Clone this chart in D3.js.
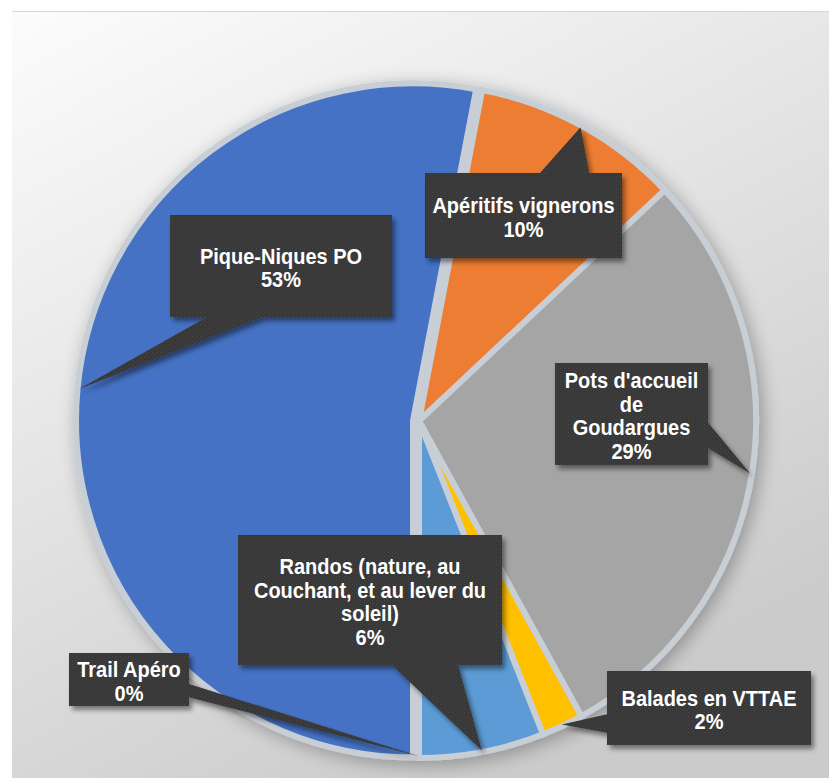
<!DOCTYPE html>
<html><head><meta charset="utf-8">
<script src="https://cdn.jsdelivr.net/npm/d3@7"></script>
<style>html,body{margin:0;padding:0;background:#fff;} svg{display:block}</style>
</head><body>
<svg id="chart" width="829" height="778"></svg>
<script>
// ---- data ----
const categories = ["Pique-Niques PO", "Apéritifs vignerons", "Pots d'accueil de Goudargues", "Balades en VTTAE", "Randos (nature, au Couchant, et au lever du soleil)", "Trail Apéro"];
const values = [53, 10, 29, 2, 6, 0];
const percentLabels = ["53%", "10%", "29%", "2%", "6%", "0%"];
const labelLines = [["Pique-Niques PO"], ["Apéritifs vignerons"], ["Pots d'accueil", "de", "Goudargues"], ["Balades en VTTAE"], ["Randos (nature, au", "Couchant, et au lever du", "soleil)"], ["Trail Apéro"]];
const colors = ["#4472C4", "#ED7D31", "#A5A5A5", "#FFC000", "#5B9BD5", "#70AD47"];
const explode = [6, 0, 0, 0, 0, 0];
// label box layout [x0, y0, x1, y1]
const labelBoxes = [[170,215,392,317],[425,173,622,258],[555,363,708,465],[607,671,811,745],[238,535,502,665],[69,653,189,706]];

// ---- layout ----
const W = 829, H = 778;
const cx = 419, cy = 421, R = 337;
const svg = d3.select("#chart");
const defs = svg.append("defs");

const bg = defs.append("linearGradient").attr("id","bg").attr("x1",0).attr("y1",0).attr("x2",0.55).attr("y2",1);
bg.append("stop").attr("offset","0%").attr("stop-color","#fcfcfc");
bg.append("stop").attr("offset","45%").attr("stop-color","#e6e6e6");
bg.append("stop").attr("offset","100%").attr("stop-color","#cbcbcb");

const pieShadow = defs.append("filter").attr("id","pieShadow").attr("x","-20%").attr("y","-20%").attr("width","140%").attr("height","140%");
pieShadow.append("feGaussianBlur").attr("in","SourceAlpha").attr("stdDeviation",9).attr("result","b");
pieShadow.append("feOffset").attr("in","b").attr("dx",4).attr("dy",4).attr("result","o");
pieShadow.append("feComponentTransfer").attr("in","o").attr("result","s").append("feFuncA").attr("type","linear").attr("slope",0.3);
const pm = pieShadow.append("feMerge");
pm.append("feMergeNode").attr("in","s");
pm.append("feMergeNode").attr("in","SourceGraphic");

const boxShadow = defs.append("filter").attr("id","boxShadow").attr("x","-20%").attr("y","-20%").attr("width","140%").attr("height","140%");
boxShadow.append("feDropShadow").attr("dx",3).attr("dy",4).attr("stdDeviation",2.5).attr("flood-color","#000").attr("flood-opacity",0.45);

const tex = defs.append("pattern").attr("id","tex").attr("patternUnits","userSpaceOnUse").attr("width",4).attr("height",4);
tex.append("rect").attr("width",4).attr("height",4).attr("fill","#383838");
tex.append("rect").attr("x",0).attr("y",0).attr("width",1).attr("height",1).attr("fill","#4a4a4a");
tex.append("rect").attr("x",2).attr("y",2).attr("width",1).attr("height",1).attr("fill","#454545");

// background frame
svg.append("rect").attr("width",W).attr("height",H).attr("fill","#ffffff");
svg.append("rect").attr("x",12).attr("y",11).attr("width",W-12).attr("height",H-11).attr("fill","url(#bg)");
svg.append("line").attr("x1",12).attr("x2",W).attr("y1",11.5).attr("y2",11.5).attr("stroke","#d6d6d6");

// pie
const pie = d3.pie().sort(null).value(d => d).startAngle(Math.PI).endAngle(3*Math.PI);
const arcs = pie(values);
const arc = d3.arc().innerRadius(0).outerRadius(R);
const g = svg.append("g").attr("transform",`translate(${cx},${cy})`).attr("filter","url(#pieShadow)");
const mid = d => (d.startAngle + d.endAngle) / 2;
const off = (d,i) => [Math.sin(mid(d))*explode[i], -Math.cos(mid(d))*explode[i]];

g.selectAll("path.slice").data(arcs).join("path")
  .attr("class","slice")
  .attr("d", arc)
  .attr("transform",(d,i)=>{const o=off(d,i);return `translate(${o[0]},${o[1]})`;})
  .attr("fill",(d,i)=>colors[i])
  .attr("stroke","#c8ced5")
  .attr("stroke-width",d => d.value > 0 ? 6 : 0)
  .attr("stroke-linejoin","miter");

// callouts
function calloutPath(b, tx, ty){
  const [x0,y0,x1,y1] = b; const w=x1-x0, h=y1-y0; const bx=(x0+x1)/2, by=(y0+y1)/2;
  const dx = tx-bx, dy = ty-by;
  const horiz = Math.abs(dx)/w > Math.abs(dy)/h;
  let p = [[x0,y0]];
  if(!horiz && dy<0){ const a = dx<0 ? [x0+w/6,x0+w*5/12] : [x0+w*7/12,x0+w*5/6]; p.push([a[0],y0],[tx,ty],[a[1],y0]); }
  p.push([x1,y0]);
  if(horiz && dx>0){ const a = dy<0 ? [y0+h/6,y0+h*5/12] : [y0+h*7/12,y0+h*5/6]; p.push([x1,a[0]],[tx,ty],[x1,a[1]]); }
  p.push([x1,y1]);
  if(!horiz && dy>0){ const a = dx<0 ? [x0+w/6,x0+w*5/12] : [x0+w*7/12,x0+w*5/6]; p.push([a[1],y1],[tx,ty],[a[0],y1]); }
  p.push([x0,y1]);
  if(horiz && dx<0){ const a = dy<0 ? [y0+h/6,y0+h*5/12] : [y0+h*7/12,y0+h*5/6]; p.push([x0,a[1]],[tx,ty],[x0,a[0]]); }
  return "M" + p.map(q=>q.join(",")).join("L") + "Z";
}

const lg = svg.append("g");
arcs.forEach((d,i)=>{
  const o = off(d,i);
  const tx = cx + o[0] + Math.sin(mid(d))*R*0.995;
  const ty = cy + o[1] - Math.cos(mid(d))*R*0.995;
  const b = labelBoxes[i];
  lg.append("path").attr("d", calloutPath(b, tx, ty)).attr("fill","url(#tex)").attr("filter","url(#boxShadow)");
  const lines = labelLines[i].concat([percentLabels[i]]);
  const lh = 23.5;
  const bx = (b[0]+b[2])/2;
  const bcy = (b[1]+b[3])/2 + 2;
  const t = lg.append("text").attr("text-anchor","middle")
    .attr("transform",`translate(${bx},0) scale(0.93,1)`)
    .attr("font-family","'Liberation Sans', Arial, sans-serif").attr("font-weight","bold").attr("font-size",21.5)
    .attr("fill","#ffffff");
  lines.forEach((s,k)=>{
    t.append("tspan").attr("x",0).attr("y", bcy - (lines.length-1)*lh/2 + k*lh + 7.5).text(s);
  });
});
</script>
</body></html>
